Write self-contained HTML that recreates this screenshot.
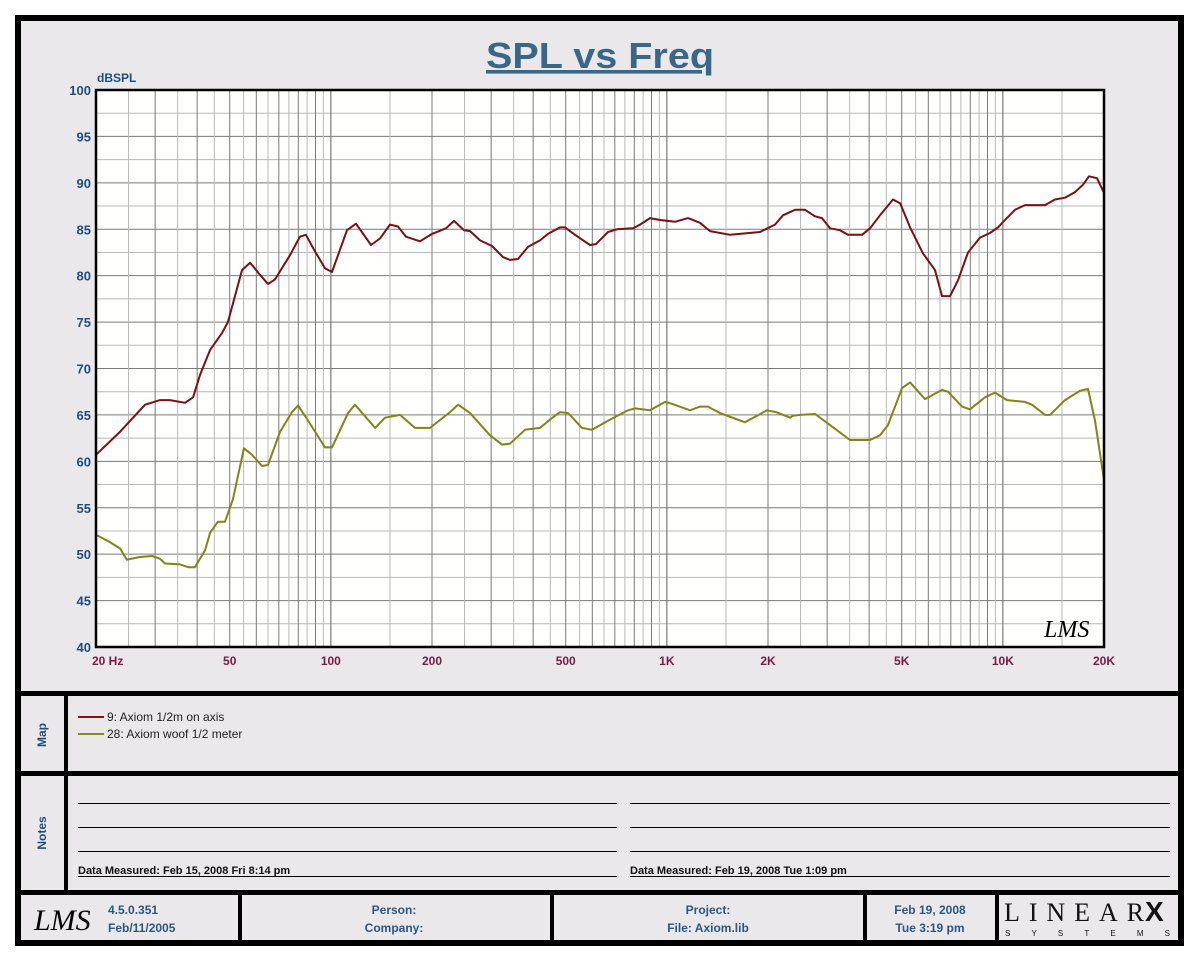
<!DOCTYPE html>
<html><head><meta charset="utf-8"><style>
html,body{margin:0;padding:0;background:#fff;}
svg{display:block;font-family:"Liberation Sans",sans-serif;}
</style></head><body>
<svg id="chart" width="1200" height="960" viewBox="0 0 1200 960">
<rect x="0" y="0" width="1200" height="960" fill="#ffffff"/>
<rect x="18" y="18" width="1163" height="925" fill="#eae8eb" stroke="#000" stroke-width="6"/>
<text x="600" y="68" text-anchor="middle" font-size="36" font-weight="bold" fill="#3b6787" text-decoration="underline" textLength="228" lengthAdjust="spacingAndGlyphs">SPL vs Freq</text>
<text x="97" y="82" font-size="12" font-weight="bold" fill="#1f4d7a">dBSPL</text>
<rect x="96" y="90" width="1008" height="557" fill="#fffffd"/>
<g id="grid"></g>
<g id="series"></g>
<rect x="96" y="90" width="1008" height="557" fill="none" stroke="#000" stroke-width="2.5"/>
<g id="yticks"></g>
<g id="xticks"></g>
<text x="1044" y="637" font-size="24" font-style="italic" font-family="'Liberation Serif',serif" fill="#000">LMS</text>
<!-- panel dividers -->
<rect x="18" y="691" width="1163" height="5" fill="#000"/>
<rect x="18" y="771" width="1163" height="5" fill="#000"/>
<rect x="18" y="890" width="1163" height="5" fill="#000"/>
<rect x="64" y="693" width="4" height="199" fill="#000"/>
<text transform="translate(46,735) rotate(-90)" text-anchor="middle" font-size="12" font-weight="bold" fill="#1f4d7a">Map</text>
<text transform="translate(46,833) rotate(-90)" text-anchor="middle" font-size="12" font-weight="bold" fill="#1f4d7a">Notes</text>
<g>
<line x1="78" y1="717" x2="104" y2="717" stroke="#8a1010" stroke-width="2"/>
<text x="107" y="721" font-size="12" fill="#222">9: Axiom 1/2m on axis</text>
<line x1="78" y1="734" x2="104" y2="734" stroke="#8a8a20" stroke-width="2"/>
<text x="107" y="738" font-size="12" fill="#222">28: Axiom woof 1/2 meter</text>
</g>
<g stroke="#000" stroke-width="1">
<line x1="78" y1="803.5" x2="617" y2="803.5"/><line x1="78" y1="827.5" x2="617" y2="827.5"/><line x1="78" y1="851.5" x2="617" y2="851.5"/><line x1="78" y1="876.5" x2="617" y2="876.5"/>
<line x1="630" y1="803.5" x2="1170" y2="803.5"/><line x1="630" y1="827.5" x2="1170" y2="827.5"/><line x1="630" y1="851.5" x2="1170" y2="851.5"/><line x1="630" y1="876.5" x2="1170" y2="876.5"/>
</g>
<text x="78" y="874" font-size="11" font-weight="bold" fill="#111">Data Measured: Feb 15, 2008  Fri  8:14 pm</text>
<text x="630" y="874" font-size="11" font-weight="bold" fill="#111">Data Measured: Feb 19, 2008  Tue  1:09 pm</text>
<!-- footer -->
<g fill="#000">
<rect x="238" y="893" width="4" height="48"/><rect x="550" y="893" width="4" height="48"/><rect x="863" y="893" width="4" height="48"/><rect x="995" y="893" width="4" height="48"/>
</g>
<text x="34" y="930" font-size="30" font-style="italic" font-family="'Liberation Serif',serif" fill="#000">LMS</text>
<g font-size="12" font-weight="bold" fill="#2a5680">
<text x="108" y="914">4.5.0.351</text>
<text x="108" y="932">Feb/11/2005</text>
<text x="394" y="914" text-anchor="middle">Person:</text>
<text x="394" y="932" text-anchor="middle">Company:</text>
<text x="708" y="914" text-anchor="middle">Project:</text>
<text x="708" y="932" text-anchor="middle">File: Axiom.lib</text>
<text x="930" y="914" text-anchor="middle">Feb 19, 2008</text>
<text x="930" y="932" text-anchor="middle">Tue  3:19 pm</text>
</g>
<text x="1004" y="921" font-size="26" font-family="'Liberation Serif',serif" fill="#111" textLength="140" lengthAdjust="spacing">LINEAR</text>
<text x="1145" y="921" font-size="28" font-weight="bold" font-family="'Liberation Sans',sans-serif" fill="#111">X</text>
<text x="1005" y="936" font-size="8" fill="#111" textLength="165" lengthAdjust="spacing">SYSTEMS</text>
</svg>
<script>
// data
const yTicks = [100,95,90,85,80,75,70,65,60,55,50,45,40];
const xTickFreqs = [20,50,100,200,500,1000,2000,5000,10000,20000];
const xTickLabels = ["20  Hz","50","100","200","500","1K","2K","5K","10K","20K"];
const axisFreq = [20,23.6,28.0,31.0,33.2,36.8,38.9,40.8,43.7,47.4,49.4,54.4,57.5,61.5,65.0,68.2,75.6,80.9,84.3,89.1,96.1,100.8,111.7,118.8,131.7,140,150,158.4,167.4,184.2,200,220.2,232.6,249,259.6,278,301.8,325.4,341.4,360.6,386.2,419.2,442.8,480.8,497.6,533,590.6,615.4,668.2,710.6,793,831.8,891.2,954.2,1057.6,1156,1255,1344,1542,1893,2098,2216,2406,2578,2760,2896,3058,3276,3460,3808,4024,4308,4710,4944,5296,5786,6282,6592,6964,7356,7876,8552,9156,9672,10148,10870,11642,13348,14300,15312,16400,17322,18050,19064,20000];
const axisDb = [60.7,63.2,66.1,66.6,66.6,66.3,66.9,69.3,72.0,73.8,75.0,80.6,81.4,80.1,79.1,79.6,82.2,84.2,84.4,82.8,80.8,80.4,84.9,85.6,83.3,84.0,85.5,85.3,84.2,83.7,84.5,85.1,85.9,84.9,84.8,83.8,83.2,82.0,81.7,81.8,83.1,83.8,84.5,85.2,85.2,84.4,83.3,83.4,84.7,85.0,85.1,85.5,86.2,86.0,85.8,86.2,85.7,84.8,84.4,84.7,85.5,86.5,87.1,87.1,86.4,86.2,85.1,84.9,84.4,84.4,85.1,86.5,88.2,87.8,85.2,82.4,80.6,77.8,77.8,79.5,82.5,84.1,84.6,85.2,86.0,87.1,87.6,87.6,88.2,88.4,89.0,89.8,90.7,90.5,88.9];
const woofFreq = [20,22.0,23.6,24.7,27.0,29.4,31.0,32.1,35.6,37.6,39.4,42.2,43.7,46.1,48.4,51.1,55.1,58.3,62.4,65.0,70.6,76.6,79.9,85.5,96.1,100.8,112.5,118,135.4,144.9,160.6,178,197.3,226.3,239.1,259.6,297.6,323.2,341.4,378.4,419.2,449,480.8,508.2,559.2,598.8,677.6,766.2,804,891.2,988,1036,1172,1255,1326,1439,1651,1708,1986,2113,2326,2374,2490,2760,3058,3508,4024,4308,4552,5012,5296,5866,6592,6866,7560,7984,8848,9476,10288,11642,12212,13348,13816,15312,16966,17926,18804,20000];
const woofDb = [52.1,51.3,50.6,49.4,49.7,49.8,49.5,49.0,48.9,48.6,48.6,50.4,52.3,53.5,53.5,55.9,61.4,60.7,59.5,59.6,63.2,65.3,66.0,64.4,61.5,61.5,65.2,66.1,63.6,64.7,65.0,63.6,63.6,65.3,66.1,65.2,62.8,61.8,61.9,63.4,63.6,64.5,65.3,65.2,63.6,63.4,64.5,65.5,65.7,65.5,66.4,66.2,65.5,65.9,65.9,65.2,64.4,64.2,65.5,65.3,64.7,64.9,65.0,65.1,63.9,62.3,62.3,62.8,63.9,67.9,68.5,66.7,67.7,67.5,65.9,65.6,66.9,67.4,66.6,66.4,66.1,65.0,65.0,66.6,67.6,67.8,64.4,58.0];

const X0=96, X1=1104, Y0=90, Y1=647, FMIN=20, FMAX=20000, DBMIN=40, DBMAX=100;
function xs(f){return X0+(X1-X0)*Math.log10(f/FMIN)/Math.log10(FMAX/FMIN);}
function ys(d){return Y1-(Y1-Y0)*(d-DBMIN)/(DBMAX-DBMIN);}
const NS="http://www.w3.org/2000/svg";
function mk(tag,attrs,parent){const e=document.createElementNS(NS,tag);for(const k in attrs)e.setAttribute(k,attrs[k]);parent.appendChild(e);return e;}

const grid=document.getElementById('grid');
// horizontal grid every 2.5 dB
for(let d=DBMIN+2.5; d<DBMAX; d+=2.5){
  const major = (d%5===0);
  const l=mk('line',{x1:X0,x2:X1,y1:ys(d),y2:ys(d),stroke:major?'#7a7a7a':'#b8b8b8','stroke-width':1},grid);
  
  
}
// vertical grid: half-steps in each decade
[10,100,1000,10000].forEach(dec=>{
  for(let m=1; m<=10; m+=0.5){
    const f=m*dec;
    if(f<=FMIN||f>=FMAX) continue;
    const major = (m%1===0);
    const l=mk('line',{x1:xs(f),x2:xs(f),y1:Y0,y2:Y1,stroke:major?'#7a7a7a':'#b8b8b8','stroke-width':1},grid);
    
    
  }
});
// ticks
const yt=document.getElementById('yticks');
yTicks.forEach(v=>{
  const t=mk('text',{x:91,y:ys(v)+5,'text-anchor':'end','font-size':13,'font-weight':'bold',fill:'#1f4d7a'},yt);
  t.textContent=v;
  
  
});
const xt=document.getElementById('xticks');
xTickFreqs.forEach((f,i)=>{
  const first=i===0;
  const t=mk('text',{x:first?92:xs(f),y:665,'text-anchor':first?'start':'middle','font-size':12,'font-weight':'bold',fill:'#7a1846','xml:space':'preserve'},xt);
  t.textContent=xTickLabels[i];
  
  
});
// series
const sg=document.getElementById('series');
function path(fr,db){return fr.map((f,i)=>(i?'L':'M')+xs(f).toFixed(1)+' '+ys(db[i]).toFixed(1)).join(' ');}
const p1=mk('path',{d:path(axisFreq,axisDb),fill:'none',stroke:'#7a0f16','stroke-width':2,'stroke-linejoin':'round'},sg);


const p2=mk('path',{d:path(woofFreq,woofDb),fill:'none',stroke:'#838318','stroke-width':2,'stroke-linejoin':'round'},sg);


</script>
</body></html>
